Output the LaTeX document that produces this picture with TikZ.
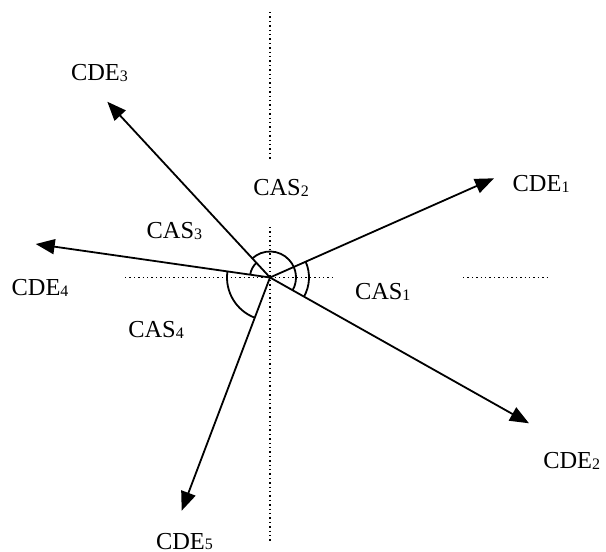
\documentclass[tikz,border=0pt]{standalone}
\usepackage{fontspec}
\setmainfont{Liberation Serif}
\usetikzlibrary{arrows.meta,calc}
\newcommand\lowidx[1]{\raisebox{-0.4pt}{\fontsize{8}{8}\selectfont #1}}
\begin{document}
\begin{tikzpicture}[x=0.5pt,y=0.5pt,
  vec/.style={line width=0.9pt,-{Triangle[length=9.5pt,width=7.5pt]}},
  anglearc/.style={line width=0.9pt},
  axis/.style={line width=0.75pt,dash pattern=on 0.7pt off 1.5pt},
  lbl/.style={inner sep=0pt,outer sep=0pt,anchor=base west,font=\fontsize{12.2}{14}\selectfont}]
\useasboundingbox (0,0) rectangle (606,552);

% common origin and the tips of the five vectors
\coordinate (O) at (270,274.5);
\coordinate (t1) at (494,373.7);
\coordinate (t2) at (529,128.7);
\coordinate (t3) at (107.3,450.3);
\coordinate (t4) at (35.7,308);
\coordinate (t5) at (181.7,41.3);

% dotted reference axes, broken around the labels
\coordinate (vA) at (270,540);
\coordinate (vB) at (270,391);
\coordinate (vC) at (270,325);
\coordinate (vD) at (270,10);
\coordinate (hA) at (125,274.3);
\coordinate (hB) at (336,274.3);
\coordinate (hC) at (463,274.3);
\coordinate (hD) at (550,274.3);
\draw[axis] (vA) -- (vB);
\draw[axis] (vC) -- (vD);
\draw[axis] (hA) -- (hB);
\draw[axis] (hC) -- (hD);

% vectors
\draw[vec] (O) -- (t1);
\draw[vec] (O) -- (t2);
\draw[vec] (O) -- (t3);
\draw[vec] (O) -- (t4);
\draw[vec] (O) -- (t5);

% angle arcs
\draw[anglearc] ($(O)+(171.9:20)$) arc[start angle=171.9,end angle=132.8,radius=20];
\draw[anglearc] ($(O)+(132.8:26)$) arc[start angle=132.8,end angle=-29.4,radius=26];
\draw[anglearc] ($(O)+(23.9:39)$) arc[start angle=23.9,end angle=-29.4,radius=39];
\draw[anglearc] ($(O)+(171.9:43)$) arc[start angle=171.9,end angle=249.3,radius=43];

% labels
\node[lbl] (cde1) at (512.7,360.3) {CDE\lowidx{1}};
\node[lbl] (cde2) at (543.3,83.7) {CDE\lowidx{2}};
\node[lbl] (cde3) at (71,471.3) {CDE\lowidx{3}};
\node[lbl] (cde4) at (11.7,256.3) {CDE\lowidx{4}};
\node[lbl] (cde5) at (156,2.8) {CDE\lowidx{5}};
\node[lbl] (cas1) at (355,252) {CAS\lowidx{1}};
\node[lbl] (cas2) at (253.3,356) {CAS\lowidx{2}};
\node[lbl] (cas3) at (146.7,313.7) {CAS\lowidx{3}};
\node[lbl] (cas4) at (128.3,214.3) {CAS\lowidx{4}};
\end{tikzpicture}
\end{document}
